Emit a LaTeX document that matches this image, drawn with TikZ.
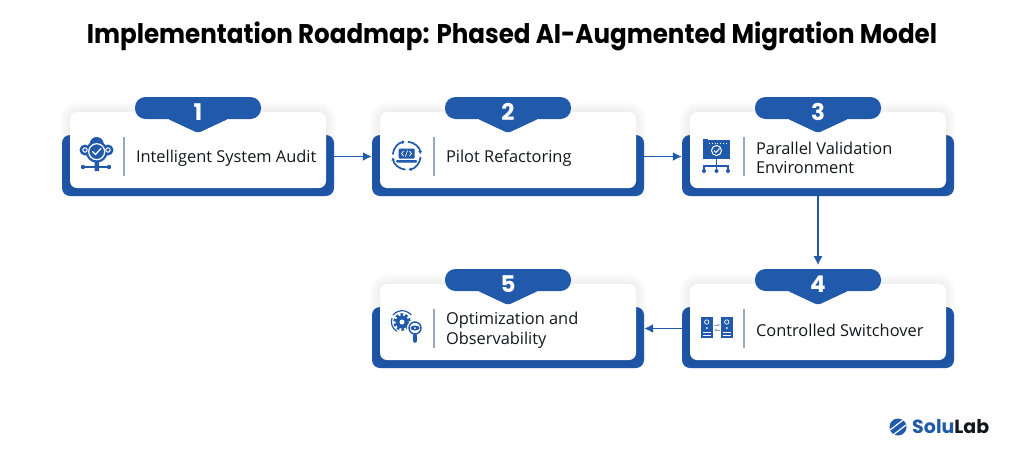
\documentclass[tikz,border=0pt]{standalone}
\usepackage{fontspec}
\setmainfont{Poppins}
\newfontfamily\titlefont[FakeStretch=.91]{Poppins}
\newfontfamily\bodyfont{Open Sans}
\usetikzlibrary{positioning,arrows.meta}
\definecolor{roadblue}{HTML}{2159AB}
\definecolor{roadink}{HTML}{14171C}
\definecolor{roadrule}{HTML}{9AA8BC}
\tikzset{
  backbox/.style={fill=roadblue,rounded corners=8pt,minimum width=272pt,minimum height=61pt,inner sep=0pt},
  cardbox/.style={fill=white,rounded corners=7pt,minimum width=256pt,minimum height=76pt,inner sep=0pt},
  badgebox/.style={fill=roadblue,rounded corners=10.5pt,minimum width=126pt,minimum height=22pt,inner sep=0pt},
  numtext/.style={text=white,font=\fontsize{23}{23}\selectfont\bfseries,inner sep=0pt},
  divbar/.style={fill=roadrule,minimum width=1.2pt,minimum height=39pt,inner sep=0pt},
  steptext/.style={text=roadink,align=left,inner sep=0pt,font=\bodyfont\fontsize{16.4}{19.6}\selectfont},
  flow/.style={draw=roadblue,line width=1.5pt,-{Latex[length=9pt,width=9pt]}},
  icon/.style={roadblue,line width=1.2pt}
}
\begin{document}
\begin{tikzpicture}[x=1pt,y=-1pt]
  \fill[white] (0,0) rectangle (1024,461);
  \useasboundingbox (0,0) rectangle (1024,461);

  \node[text=black,inner sep=0pt,font=\titlefont\fontsize{27}{27}\selectfont\bfseries] (title) at (512,36.5)
    {Implementation Roadmap: Phased AI-Augmented Migration Model};

  % the five steps
  \foreach \n/\x/\y/\label in {1/198/150/{Intelligent System Audit},
      2/508/150/{Pilot Refactoring},
      3/818/150/{Parallel Validation\\Environment},
      4/818/322/{Controlled Switchover},
      5/508/322/{Optimization and\\Observability}} {
    \node[backbox] (back\n) at (\x,\y+15.5) {};
    \foreach \s in {10,8,6,4,2}
      \fill[black,opacity=.012,rounded corners=7pt+\s] (\x-128-\s,\y-38-\s) rectangle (\x+128+\s,\y+38+\s);
    \node[cardbox] (card\n) at (\x,\y) {};
    \fill[roadblue,rounded corners=2pt] (\x-30,\y-31) -- (\x,\y-17) -- (\x+30,\y-31) -- cycle;
    \node[badgebox] (badge\n) at (\x,\y-42) {};
    \node[numtext] (num\n) at (\x,\y-38) {\n};
    \node[divbar] (div\n) at (\x-74,\y+6.5) {};
    \node[steptext,right=11pt of div\n,yshift=-1.5pt] (text\n) {\label};
  }

  \draw[flow] (div1 -| back1.east) -- (div2 -| back2.west);
  \draw[flow] (div2 -| back2.east) -- (div3 -| back3.west);
  \draw[flow] (back3.south) -- ++(0,69) coordinate (into4);
  \draw[flow] (div4 -| back4.west) -- (div5 -| back5.east);

  % audit icon
  \fill[roadblue] (85,150) circle (5.5) (108,150) circle (5.5) (96.7,144) circle (7);
  \fill[roadblue] (96.7,151.7) circle (11);
  \draw[white,line width=1.2pt] (96.7,151.7) circle (8);
  \draw[white,line width=1pt] (85,150) circle (2.2) (108,150) circle (2.2);
  \draw[white,line width=1.3pt,line cap=round] (92.5,151.5) -- (95.5,154.5) -- (101,148.5);
  \fill[roadblue] (94.5,162) rectangle (99,171) (83,167) circle (2.2) (109,167) circle (2.2);
  \draw[icon] (83,167) -- (109,167);

  % refactoring icon
  \foreach \a in {5,95,185,275}
    \draw[icon,line width=1.7pt,-{Latex[length=3pt,width=4pt]}] (406.7,155.7) ++(\a:14) arc (\a:\a+78:14);
  \fill[roadblue,rounded corners=1pt] (398.5,148.5) rectangle (414.5,158.5);
  \fill[roadblue,rounded corners=1pt] (396,160) rectangle (417,162.5);
  \draw[white,line width=.7pt] (403.5,151) -- (401.5,153.5) -- (403.5,156)
    (409.5,151) -- (411.5,153.5) -- (409.5,156) (407.5,150.5) -- (405.5,156.5);

  % validation icon
  \fill[roadblue] (703,140) rectangle (730,158.5);
  \fill[roadblue] (703,139) rectangle (708,142);
  \draw[white,line width=.8pt,dotted] (709,143) -- (728,143);
  \draw[white,line width=1pt] (716.5,150.5) circle (5);
  \draw[white,line width=1pt] (714,150.5) -- (716,152.5) -- (719.5,148.5);
  \draw[icon] (716.5,158) -- (716.5,166) (704,170) -- (704,166) -- (728,166) -- (728,170) (716.5,166) -- (716.5,170);
  \fill[roadblue] (704,171) circle (2) (716.5,171) circle (2) (728,171) circle (2);

  % switchover icon
  \foreach \sx in {701,721} {
    \fill[roadblue] (\sx,317) rectangle +(11.5,21);
    \draw[white,line width=.7pt] (\sx+5.75,322) circle (2.2);
    \fill[white] (\sx+5.75,328) circle (1);
    \draw[white,line width=.6pt] (\sx+1.5,332.5) -- +(8.5,0) (\sx+1.5,335) -- +(8.5,0);
  }
  \draw[roadrule,line width=.8pt,-{Latex[length=2.5pt,width=3pt]}] (714,325) -- (720,325);
  \draw[roadrule,line width=.8pt,-{Latex[length=2.5pt,width=3pt]}] (720,330) -- (714,330);

  % observability icon
  \draw[roadblue,line width=2.6pt,dash pattern=on 2.6pt off 2.2pt] (402,322) circle (7.5);
  \fill[roadblue] (402,322) circle (6.5);
  \fill[white] (402,322) circle (2.5);
  \draw[icon] (393,315) arc (220:320:12);
  \draw[icon] (392,318) arc (200:120:11);
  \fill[white] (415,328) circle (8);
  \draw[icon,line width=1.4pt] (415,328) circle (6);
  \fill[roadblue] (415,328) ellipse (4.5 and 2.5);
  \fill[white] (415,328) circle (1);
  \fill[roadblue,rounded corners=1pt] (413.2,334) rectangle (416.8,342.5);

  % logo
  \fill[roadblue] (898,427) circle (8.5);
  \draw[white,line width=1.2pt] (890,430) -- (903,420) (893,435) -- (906,425);
  \node[inner sep=0pt,anchor=west,font=\fontsize{19}{19}\selectfont\bfseries] (logo) at (912,427)
    {\textcolor{roadblue}{Solu}\textcolor{roadink}{Lab}};
\end{tikzpicture}
\end{document}
